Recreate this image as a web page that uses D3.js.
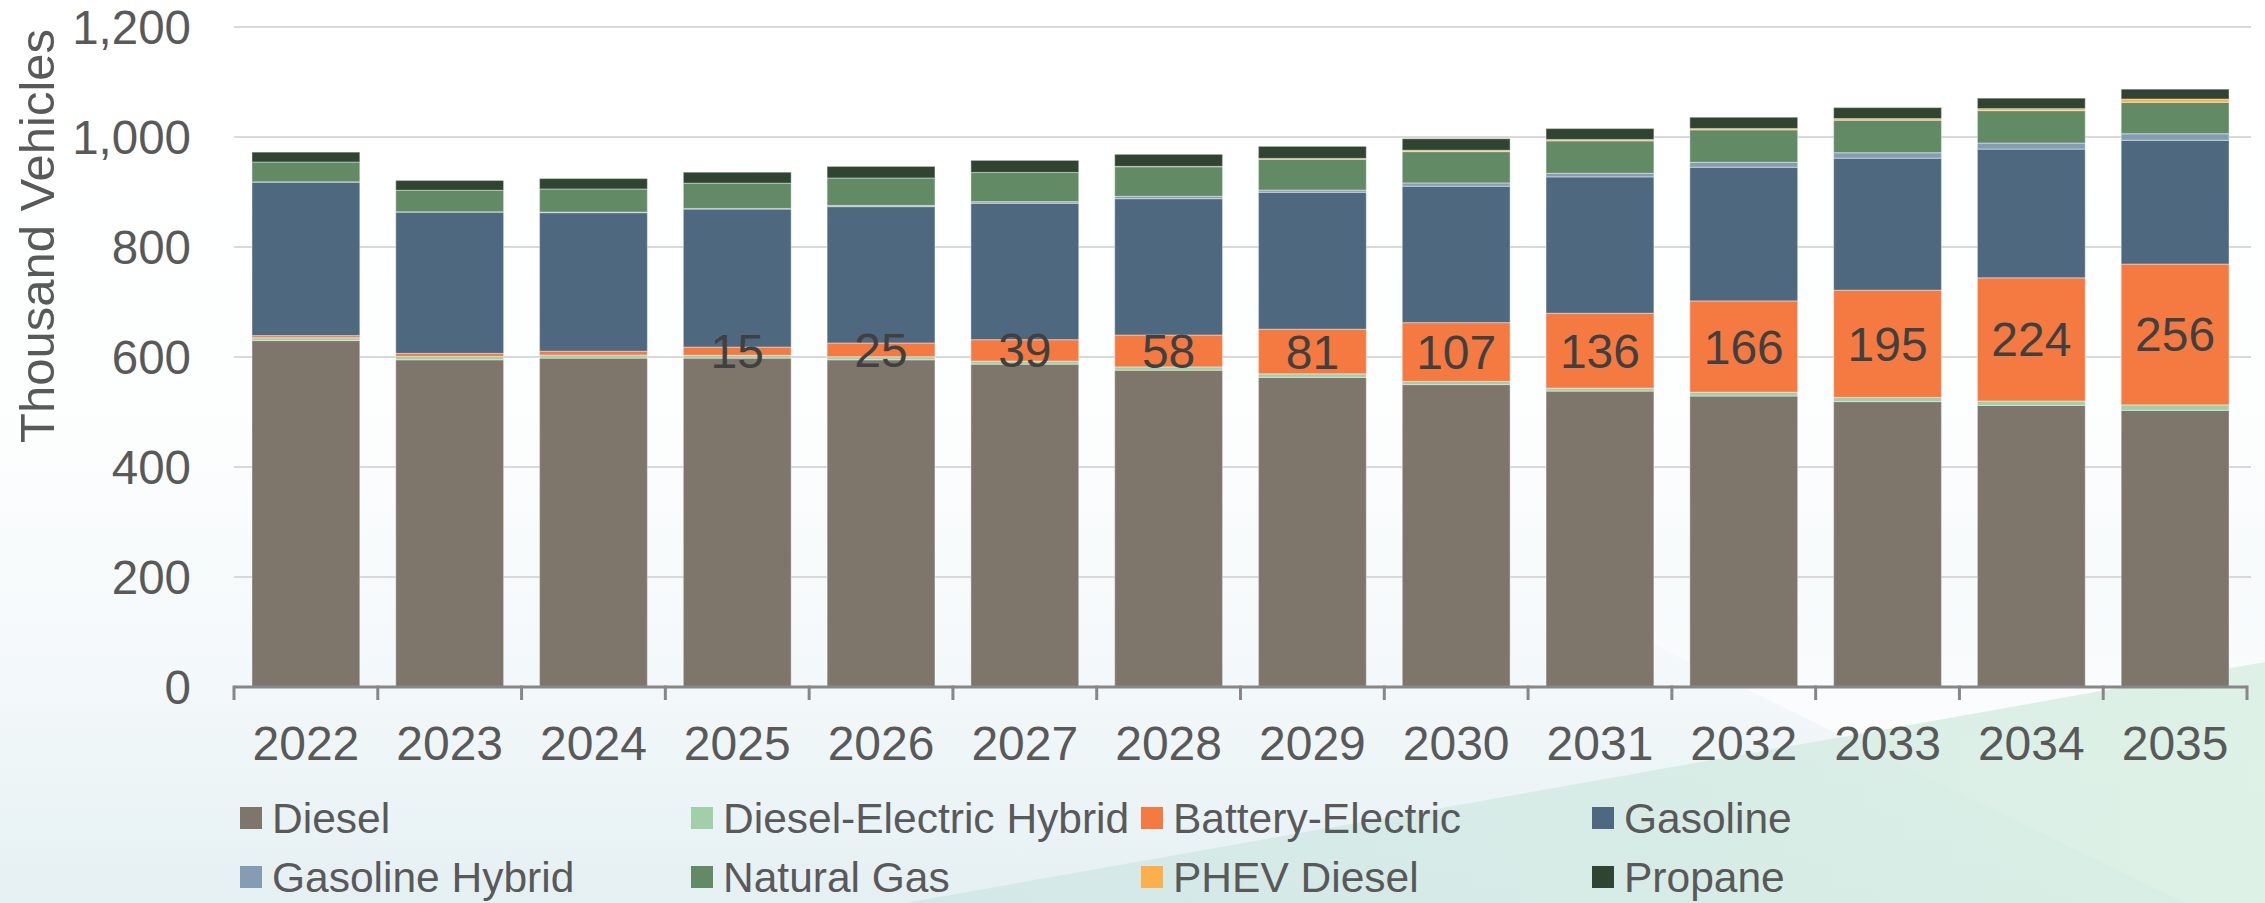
<!DOCTYPE html>
<html>
<head>
<meta charset="utf-8">
<script src="https://cdn.jsdelivr.net/npm/d3@7/dist/d3.min.js"></script>
<style>
  html, body { margin: 0; padding: 0; background: #ffffff; }
  svg { display: block; }
  text { font-family: "Liberation Sans", Arial, sans-serif; }
</style>
</head>
<body>
<svg id="chart" width="2265" height="903"></svg>
<script>
// ---- Data (thousand vehicles) ----
const years = ["2022","2023","2024","2025","2026","2027","2028","2029","2030","2031","2032","2033","2034","2035"];
const seriesNames = ["Diesel","Diesel-Electric Hybrid","Battery-Electric","Gasoline","Gasoline Hybrid","Natural Gas","PHEV Diesel","Propane"];
const diesel        = [630, 595, 598, 598, 595, 587, 576, 563, 550, 538, 529, 519, 512, 503];
const dieselHybrid  = [5, 6, 5.5, 5, 5.5, 5.5, 6, 6.5, 5.5, 5.5, 7, 7.5, 8, 10];
const batteryElec   = [4, 5.5, 7, 15, 25, 39, 58, 81, 107, 136, 166, 195, 224, 256];
const gasoline      = [279, 257, 252, 251, 248, 248, 248, 249, 248, 248, 243, 240, 234, 225];
const gasHybrid     = [0.5, 0.5, 1, 1, 2, 3, 4, 4, 6, 6.5, 9, 10, 11, 12];
const naturalGas    = [36, 39, 42, 46, 50, 53, 54, 56, 57, 59, 59, 59, 59, 57];
const phevDiesel    = [0, 0, 0, 0, 0, 0, 0.5, 1.5, 2.4, 2.4, 2.4, 3, 3.6, 6];
const propane       = [18, 18, 19, 20, 21, 22, 22, 22, 21, 20, 20.5, 20, 19, 18];
const bevLabels     = [null, null, null, 15, 25, 39, 58, 81, 107, 136, 166, 195, 224, 256];
const yTicks        = [0, 200, 400, 600, 800, 1000, 1200];
const colors = ["#7e756b", "#a0cfa8", "#f47a42", "#4e687f", "#859db3", "#628a64", "#fbb04b", "#2f4532"];

const seriesValues = [diesel, dieselHybrid, batteryElec, gasoline, gasHybrid, naturalGas, phevDiesel, propane];
const table = years.map((y, i) => {
  const row = { year: y };
  seriesNames.forEach((s, k) => row[s] = seriesValues[k][i]);
  return row;
});

const svg = d3.select("#chart");
const W = 2265, H = 903;

// ---- Background ----
const defs = svg.append("defs");
const bg = defs.append("linearGradient").attr("id", "bg").attr("x1", 0).attr("y1", 0).attr("x2", 0).attr("y2", 1);
bg.append("stop").attr("offset", "0").attr("stop-color", "#ffffff");
bg.append("stop").attr("offset", "0.45").attr("stop-color", "#fdfefe");
bg.append("stop").attr("offset", "0.76").attr("stop-color", "#f3f8fa");
bg.append("stop").attr("offset", "1").attr("stop-color", "#e5f0f3");
svg.append("rect").attr("width", W).attr("height", H).attr("fill", "url(#bg)");

const g2 = defs.append("linearGradient").attr("id", "gshape").attr("x1", 0).attr("y1", 0).attr("x2", 1).attr("y2", 0);
g2.append("stop").attr("offset", "0").attr("stop-color", "#cfe6e6");
g2.append("stop").attr("offset", "1").attr("stop-color", "#d6eee0");

const wg = defs.append("linearGradient").attr("id", "wshape").attr("gradientUnits", "userSpaceOnUse")
  .attr("x1", 0).attr("y1", 560).attr("x2", 0).attr("y2", 760);
wg.append("stop").attr("offset", "0").attr("stop-color", "#ffffff").attr("stop-opacity", 0);
wg.append("stop").attr("offset", "1").attr("stop-color", "#ffffff").attr("stop-opacity", 0.85);

// white wedge on the right
svg.append("path")
  .attr("d", d3.line()([[1450, 545], [2265, 545], [2265, 903], [2185, 903]]) + "Z")
  .attr("fill", "url(#wshape)");
// green/teal shape rising to the right
svg.append("path")
  .attr("d", d3.line()([[905, 903], [2265, 662], [2265, 903]]) + "Z")
  .attr("fill", "url(#gshape)").attr("opacity", 0.8);

// ---- Scales ----
const x = d3.scaleBand().domain(years).range([234, 2247]).paddingInner(0.25).paddingOuter(0.125);
const y = d3.scaleLinear().domain([0, 1200]).range([687, 27]);

// gridlines
svg.append("g").selectAll("line").data(yTicks.filter(d => d > 0)).join("line")
  .attr("x1", 234).attr("x2", 2251)
  .attr("y1", d => y(d)).attr("y2", d => y(d))
  .attr("stroke", "#d9d9d9").attr("stroke-width", 2);

// y tick labels
svg.append("g").selectAll("text").data(yTicks).join("text")
  .attr("x", 191).attr("y", d => y(d) + 17)
  .attr("text-anchor", "end")
  .attr("font-size", 47.5).attr("fill", "#595959")
  .text(d => d3.format(",")(d));

// y axis title
svg.append("text")
  .attr("transform", "translate(54,236) rotate(-90)")
  .attr("text-anchor", "middle")
  .attr("font-size", 49).attr("fill", "#595959")
  .text("Thousand Vehicles");

// ---- Stacked bars ----
const stack = d3.stack().keys(seriesNames);
const stacked = stack(table);

const layers = svg.append("g").selectAll("g").data(stacked).join("g")
  .attr("fill", (d, i) => colors[i]);
layers.selectAll("rect").data(d => d).join("rect")
  .attr("x", d => x(d.data.year))
  .attr("width", x.bandwidth())
  .attr("y", d => y(d[1]))
  .attr("height", d => Math.max(0, y(d[0]) - y(d[1])))
  .attr("stroke", "#ffffff").attr("stroke-opacity", 0.35).attr("stroke-width", 1.2);

// x axis line with ticks at band boundaries
const step = x.step();
const left = x.range()[0];
const axisG = svg.append("g");
axisG.append("line")
  .attr("x1", left).attr("x2", x.range()[1])
  .attr("y1", y(0)).attr("y2", y(0))
  .attr("stroke", "#878787").attr("stroke-width", 3);
axisG.selectAll("line.tick").data(d3.range(years.length + 1)).join("line")
  .attr("class", "tick")
  .attr("x1", i => left + i * step).attr("x2", i => left + i * step)
  .attr("y1", y(0) - 1.5).attr("y2", y(0) + 13)
  .attr("stroke", "#878787").attr("stroke-width", 3);

// x tick labels
svg.append("g").selectAll("text").data(years).join("text")
  .attr("x", d => x(d) + x.bandwidth() / 2)
  .attr("y", 760)
  .attr("text-anchor", "middle")
  .attr("font-size", 48).attr("fill", "#595959")
  .text(d => d);

// BEV data labels
const bevLayer = stacked[2];
svg.append("g").selectAll("text").data(bevLayer.filter((d, i) => bevLabels[i] !== null)).join("text")
  .attr("x", d => x(d.data.year) + x.bandwidth() / 2)
  .attr("y", d => (y(d[0]) + y(d[1])) / 2 + 17)
  .attr("text-anchor", "middle")
  .attr("font-size", 48).attr("fill", "#404040")
  .text(d => bevLabels[years.indexOf(d.data.year)]);

// ---- Legend ----
const legendX = [240, 691, 1141, 1592];
const legendY = [818, 877];
const legend = svg.append("g").selectAll("g").data(seriesNames).join("g")
  .attr("transform", (d, i) => `translate(${legendX[i % 4]},${legendY[Math.floor(i / 4)]})`);
legend.append("rect")
  .attr("x", 0).attr("y", -11).attr("width", 22).attr("height", 22)
  .attr("fill", (d, i) => colors[i]);
legend.append("text")
  .attr("x", 32).attr("y", 15)
  .attr("font-size", 42.5).attr("fill", "#595959")
  .text(d => d);
</script>
</body>
</html>
